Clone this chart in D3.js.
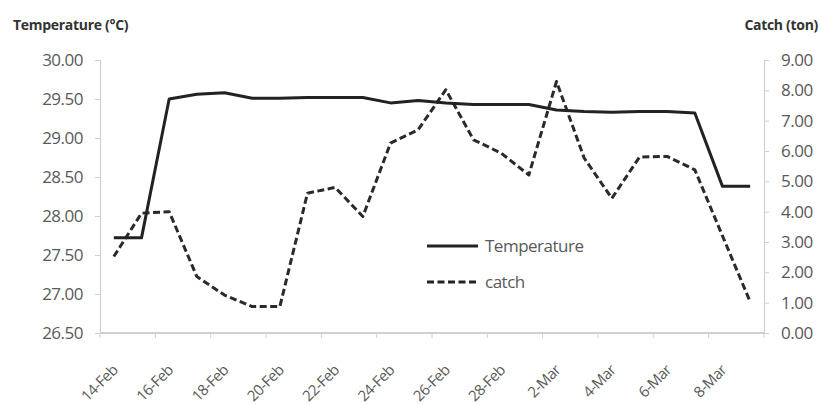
<!DOCTYPE html>
<html>
<head>
<meta charset="utf-8">
<script src="https://cdn.jsdelivr.net/npm/d3@7"></script>
<style>
  html, body { margin: 0; padding: 0; background: #fff; }
  svg { display: block; }
  text { font-family: "Open Sans", "DejaVu Sans", sans-serif; }
</style>
</head>
<body>
<svg id="chart" width="821" height="405"></svg>
<script>
const categories = ["14-Feb","15-Feb","16-Feb","17-Feb","18-Feb","19-Feb","20-Feb","21-Feb","22-Feb","23-Feb","24-Feb","25-Feb","26-Feb","27-Feb","28-Feb","1-Mar","2-Mar","3-Mar","4-Mar","5-Mar","6-Mar","7-Mar","8-Mar","9-Mar"];
const temperature = [27.72,27.72,29.50,29.56,29.58,29.51,29.51,29.52,29.52,29.52,29.45,29.48,29.45,29.43,29.43,29.43,29.36,29.34,29.33,29.34,29.34,29.32,28.38,28.38];
const catchTon = [2.52,3.95,4.00,1.86,1.25,0.87,0.87,4.61,4.80,3.84,6.26,6.70,8.02,6.37,5.93,5.21,8.29,5.77,4.44,5.80,5.82,5.38,3.20,1.03];
const tempTicks = [26.5,27.0,27.5,28.0,28.5,29.0,29.5,30.0];
const catchTicks = [0,1,2,3,4,5,6,7,8,9];
const seriesNames = ["Temperature","catch"];

const svg = d3.select("#chart");
const L = 100, R = 764, T = 60, B = 333;
const textColor = "#595959";
const axisColor = "#d0d0d0";

const xi = d3.scaleLinear().domain([0, categories.length]).range([L, R]);
const yT = d3.scaleLinear().domain([26.5, 30]).range([B, T]);
const yC = d3.scaleLinear().domain([0, 9]).range([B, T]);

// Left axis
const gL = svg.append("g").attr("transform", `translate(${L},0)`)
  .call(d3.axisLeft(yT).tickValues(tempTicks).tickFormat(d3.format(".2f")).tickSize(5).tickPadding(12));
// Right axis
const gR = svg.append("g").attr("transform", `translate(${R},0)`)
  .call(d3.axisRight(yC).tickValues(catchTicks).tickFormat(d3.format(".2f")).tickSize(5).tickPadding(12));
[gL, gR].forEach(g => {
  g.select(".domain").attr("stroke", axisColor).attr("stroke-width", 1.2);
  g.selectAll(".tick line").attr("stroke", axisColor).attr("stroke-width", 1);
  g.selectAll(".tick text").attr("fill", textColor).style("font-size", "17px")
    .style("font-family", "'Open Sans', sans-serif").attr("letter-spacing", "-0.5px");
});

// Bottom axis
const evenIdx = d3.range(0, categories.length + 1, 2);
svg.append("line").attr("x1", xi(0)).attr("x2", xi(categories.length))
  .attr("y1", B).attr("y2", B).attr("stroke", axisColor).attr("stroke-width", 2);
svg.append("g").selectAll("line").data(evenIdx).join("line")
  .attr("x1", d => xi(d)).attr("x2", d => xi(d)).attr("y1", B).attr("y2", B + 5)
  .attr("stroke", axisColor).attr("stroke-width", 1);
svg.append("g").selectAll("text").data(d3.range(0, categories.length, 2)).join("text")
  .attr("transform", d => `translate(${xi(d + 0.5) + 5},${B + 38}) rotate(-45)`)
  .attr("text-anchor", "end")
  .attr("fill", textColor).style("font-size", "15px").attr("letter-spacing", "-0.5px")
  .text(d => categories[d]);

// Lines
const lineT = d3.line().x((d, i) => xi(i + 0.5)).y(d => yT(d));
const lineC = d3.line().x((d, i) => xi(i + 0.5)).y(d => yC(d));
svg.append("path").datum(catchTon).attr("d", lineC)
  .attr("fill", "none").attr("stroke", "#2a2a2a").attr("stroke-width", 3)
  .attr("stroke-dasharray", "7,3.5").attr("stroke-linejoin", "round");
svg.append("path").datum(temperature).attr("d", lineT)
  .attr("fill", "none").attr("stroke", "#222").attr("stroke-width", 3)
  .attr("stroke-linejoin", "round");

// Axis titles
svg.append("text").attr("x", 13).attr("y", 30).attr("fill", "#333")
  .style("font-size", "14px").style("font-weight", "bold").attr("letter-spacing", "-0.3px")
  .text("Temperature (°C)");
svg.append("text").attr("x", 818).attr("y", 30).attr("text-anchor", "end").attr("fill", "#333")
  .style("font-size", "14px").style("font-weight", "bold").attr("letter-spacing", "-0.3px")
  .text("Catch (ton)");

// Legend
const legend = svg.append("g");
const legY = [246, 282];
legend.selectAll("line").data(seriesNames).join("line")
  .attr("x1", 427).attr("x2", 478).attr("y1", (d, i) => legY[i]).attr("y2", (d, i) => legY[i])
  .attr("stroke", "#222").attr("stroke-width", 3)
  .attr("stroke-dasharray", (d, i) => i === 1 ? "7,3.5" : null);
legend.selectAll("text").data(seriesNames).join("text")
  .attr("x", 485).attr("y", (d, i) => legY[i]).attr("dy", "0.35em")
  .attr("fill", textColor).style("font-size", "17px").attr("letter-spacing", "-0.5px")
  .text(d => d);
</script>
</body>
</html>
